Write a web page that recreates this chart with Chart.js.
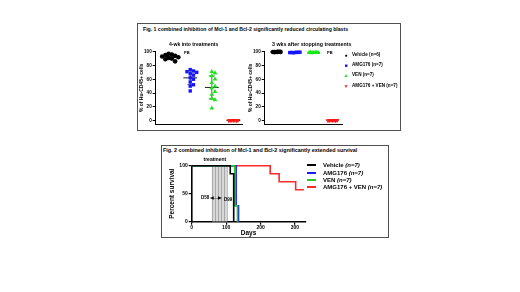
<!DOCTYPE html>
<html>
<head>
<meta charset="utf-8">
<script src="https://cdn.jsdelivr.net/npm/chart.js@4.4.1/dist/chart.umd.min.js"></script>
<style>
  html, body { margin: 0; padding: 0; background: #fff; }
  #page { position: relative; width: 520px; height: 292px; overflow: hidden; font-family: 'Liberation Sans', Arial, sans-serif; }
  .box { position: absolute; border: 1.5px solid #505050; box-sizing: border-box; }
  .txt { position: absolute; white-space: nowrap; font-weight: bold; color: #000; line-height: 1; transform-origin: left center; }
  canvas { position: absolute; }
</style>
</head>
<body>
<div id="page">
  <div class="box" style="left:137px;top:23px;width:264px;height:108px"></div>
  <div class="box" style="left:161px;top:145px;width:228px;height:93px"></div>
  <canvas id="wk4" width="109" height="86" style="left:137px;top:44px"></canvas>
  <canvas id="off3" width="100" height="86" style="left:246px;top:44px"></canvas>
  <canvas id="surv" width="150" height="80" style="left:161px;top:158px"></canvas>
</div>
<script>
// groups
const groups = ['Vehicle', 'AMG176', 'VEN', 'AMG176 + VEN'];
const groupN1 = ['(n=6)', '(n=7)', '(n=7)', '(n=7)'];
const groupN2 = ['(n=7)', '(n=7)', '(n=7)', '(n=7)'];
const groupColors = ['#000000', '#1414ff', '#19e619', '#ff1a1a'];

// Fig 1 - % Hu-CD45+ cells in PB, 4 wk into treatment
const wk4Vehicle = [97, 96, 95, 94, 93, 92, 91, 90, 89, 86];
const wk4Amg = [74, 72, 71, 70, 68, 66, 62, 60, 56, 52, 50, 43];
const wk4Ven = [71, 69, 65, 60, 55, 50, 47, 42, 38, 32, 30, 18];
const wk4Combo = [0.3, 0.2, 0.4, 0.1, 0.3, 0.2, 0.1];
// 3 wks after stopping treatments
const off3Vehicle = [99.6, 99.8, 99.4, 99.9, 99.5, 99.7];
const off3Amg = [98.8, 99.2, 98.5, 99.0, 98.9, 99.3, 98.7];
const off3Ven = [98.6, 99.0, 98.4, 98.9, 99.1, 98.7, 98.8];
const off3Combo = [0.3, 0.2, 0.4, 0.1, 0.3, 0.2, 0.1];
const pctTicks = [0, 20, 40, 60, 80, 100];

// Fig 2 - survival (days, percent)
const vehDays = [0, 112, 122];
const vehSurv = [100, 85.7, 0];
const amgDays = [0, 129, 136];
const amgSurv = [100, 28.6, 0];
const venDays = [0, 125, 133];
const venSurv = [100, 28.6, 0];
const comboDays = [0, 228, 254, 302, 326];
const comboSurv = [100, 85.7, 71.4, 57.1, 57.1];
const treatStart = 58;
const treatEnd = 105;
const dayTicks = [0, 100, 200, 300];
const survTicks = [0, 50, 100];

const FONT = "'Liberation Sans', Arial, sans-serif";
Chart.defaults.font.family = FONT;
Chart.defaults.color = '#000';
const page = document.getElementById('page');

function put(text, x, y, size, o = {}) {
  const d = document.createElement('div');
  d.className = 'txt';
  d.innerHTML = text;
  d.style.fontSize = size + 'px';
  d.style.left = x + 'px';
  d.style.top = (y - size / 2) + 'px';
  if (o.color) d.style.color = o.color;
  page.appendChild(d);
  const sx = o.w ? o.w / d.offsetWidth : 1;
  const tx = o.center ? -d.offsetWidth * sx / 2 : 0;
  d.style.transform = `translateX(${tx}px) scaleX(${sx})`;
  return d;
}

const mean = a => a.reduce((s, v) => s + v, 0) / a.length;
const sd = a => { const m = mean(a); return Math.sqrt(a.reduce((s, v) => s + (v - m) ** 2, 0) / (a.length - 1)); };

// simple beeswarm spread around the group centre
function swarm(values, center, xStep, yGap) {
  const placed = [];
  return values.map(v => {
    let k = 0, x;
    while (true) {
      x = center + (k % 2 ? 1 : -1) * Math.ceil(k / 2) * xStep;
      if (!placed.some(p => Math.abs(p.x - x) < xStep * 0.9 && Math.abs(p.y - v) < yGap)) break;
      k++;
    }
    placed.push({ x, y: v });
    return { x, y: v };
  });
}

const markerStyle = ['circle', 'rect', 'triangle', 'triangle'];
const markerRot = [0, 0, 0, 180];
const markerRad = [2.3, 2.4, 2.7, 2.7];

function lineSet(pts, color, w) {
  return { data: pts, showLine: true, pointRadius: 0, borderColor: color, borderWidth: w, clip: false };
}

function stripPanel(id, vals, spec) {
  const datasets = [];
  // points first so they are drawn above the mean / SD lines
  vals.forEach((v, i) => {
    datasets.push({
      data: swarm(v, i + 1, spec.step[i], 5.5),
      pointStyle: markerStyle[i],
      rotation: markerRot[i],
      pointRadius: markerRad[i],
      backgroundColor: groupColors[i],
      borderColor: groupColors[i],
      borderWidth: 0,
      clip: false
    });
  });
  vals.forEach((v, i) => {
    const c = i + 1, m = mean(v), s = sd(v);
    datasets.push(lineSet([{ x: c - 0.32, y: m }, { x: c + 0.32, y: m }], '#222', 1));
    if (spec.bars) {
      datasets.push(lineSet([{ x: c, y: m - s }, { x: c, y: m + s }], '#222', 0.7));
      datasets.push(lineSet([{ x: c - 0.14, y: m - s }, { x: c + 0.14, y: m - s }], '#222', 0.7));
      datasets.push(lineSet([{ x: c - 0.14, y: m + s }, { x: c + 0.14, y: m + s }], '#222', 0.7));
    }
  });
  new Chart(document.getElementById(id), {
    type: 'scatter',
    data: { datasets },
    options: {
      responsive: false,
      animation: false,
      events: [],
      plugins: { legend: { display: false }, tooltip: { enabled: false } },
      layout: { padding: { left: 0, right: spec.padRight, top: 7.7, bottom: 6 } },
      scales: {
        x: {
          type: 'linear', min: 0.4, max: spec.xMax,
          grid: { display: false },
          border: { color: '#000', width: 1 },
          ticks: { display: false },
          afterFit: s => { s.height = 0; }
        },
        y: {
          min: -5, max: 100,
          afterBuildTicks: a => { a.ticks = pctTicks.map(v => ({ value: v })); },
          afterFit: s => { s.width = 18.7; },
          grid: { drawOnChartArea: false, tickLength: 3, color: '#000', lineWidth: 1 },
          border: { color: '#000', width: 1 },
          ticks: { padding: 1, font: { size: 4.6, weight: 'bold' }, color: '#000' },
          title: { display: true, text: '% of Hu-CD45+ cells', font: { size: 5, weight: 'bold' }, padding: { top: 2, bottom: 0 }, color: '#000' }
        }
      }
    }
  });
}

stripPanel('wk4', [wk4Vehicle, wk4Amg, wk4Ven, wk4Combo], { xMax: 4.4, padRight: 3, bars: true, step: [0.15, 0.15, 0.15, 0.07] });
stripPanel('off3', [off3Vehicle, off3Amg, off3Ven, off3Combo], { xMax: 4.5, padRight: 4, bars: false, step: [0.08, 0.09, 0.08, 0.08] });

// hatch for treatment window
const pc = document.createElement('canvas');
pc.width = 3; pc.height = 4;
const pctx = pc.getContext('2d');
pctx.fillStyle = '#d8d8d8'; pctx.fillRect(0, 0, 3, 4);
pctx.fillStyle = '#a8a8a8'; pctx.fillRect(0, 0, 1, 4);
const survCanvas = document.getElementById('surv');
const hatch = survCanvas.getContext('2d').createPattern(pc, 'repeat');

const zip = (xs, ys) => xs.map((x, i) => ({ x, y: ys[i] }));
const curve = (xs, ys, color) => ({
  data: zip(xs, ys), borderColor: color, borderWidth: 1.6, pointRadius: 0,
  stepped: 'before', fill: false, clip: false
});

new Chart(survCanvas, {
  type: 'line',
  data: {
    datasets: [
      curve(vehDays, vehSurv, '#000'),
      curve(venDays, venSurv, '#22cc22'),
      curve(amgDays, amgSurv, '#1a1aff'),
      curve(comboDays, comboSurv, '#ff2a2a'),
      { data: [{ x: treatStart, y: 100 }, { x: treatEnd, y: 100 }], fill: 'origin', backgroundColor: hatch, borderWidth: 0, pointRadius: 0 }
    ]
  },
  options: {
    responsive: false,
    animation: false,
    events: [],
    plugins: { legend: { display: false }, tooltip: { enabled: false } },
    layout: { padding: { left: 0, right: 5.7, top: 7.7, bottom: 0 } },
    scales: {
      x: {
        type: 'linear', min: 0, max: 330,
        afterBuildTicks: a => { a.ticks = dayTicks.map(v => ({ value: v })); },
        afterFit: s => { s.height = 16.3; },
        grid: { drawOnChartArea: false, tickLength: 3, color: '#000', lineWidth: 1.2 },
        border: { color: '#000', width: 1.6 },
        ticks: { padding: 0, font: { size: 5, weight: 'bold' }, color: '#000', maxRotation: 0 },
        title: { display: true, text: 'Days', font: { size: 6.5, weight: 'bold' }, padding: { top: 0, bottom: 0.5 }, color: '#000' }
      },
      y: {
        min: 0, max: 100,
        afterBuildTicks: a => { a.ticks = survTicks.map(v => ({ value: v })); },
        afterFit: s => { s.width = 30.7; },
        grid: { drawOnChartArea: false, tickLength: 3, color: '#000', lineWidth: 1.2 },
        border: { color: '#000', width: 1.6 },
        ticks: { padding: 1, font: { size: 5, weight: 'bold' }, color: '#000' },
        title: { display: true, text: 'Percent survival', font: { size: 6.5, weight: 'bold' }, padding: { top: 7.5, bottom: 0 }, color: '#000' }
      }
    }
  }
});

// Fig 1 texts
put('Fig. 1 combined inhibition of Mcl-1 and Bcl-2 significantly reduced circulating blasts', 143, 30, 5.5, { w: 205 });
put('4-wk into treatments', 168.5, 44, 6, { w: 49 });
put('3 wks after stopping treatments', 271.5, 43.5, 6, { w: 79 });
put('PB', 187, 53, 4, { center: true });
put('PB', 330, 53, 4, { center: true });
const leg1Y = [55, 65, 75.5, 86];
const leg1Mark = ['&#9679;', '&#9632;', '&#9650;', '&#9660;'];
groups.forEach((g, i) => {
  put(leg1Mark[i], 346, leg1Y[i], 5, { center: true, color: groupColors[i] });
  put(g + ' ' + groupN1[i], 352, leg1Y[i], 4.6);
});

// Fig 2 texts
put('Fig. 2 combined inhibition of Mcl-1 and Bcl-2 significantly extended survival', 163, 150.5, 5.5, { w: 194 });
put('treatment', 215, 159.5, 5, { center: true });
put('D58', 201, 198.5, 4.5);
put('&#9664;&#8212;&#9654;', 216, 198, 4, { center: true, w: 12 });
put('D99', 224, 200, 4.5);
const leg2Y = [165, 173, 180, 187];
const leg2Colors = ['#000', '#1a1aff', '#22cc22', '#ff2a2a'];
groups.forEach((g, i) => {
  const ln = document.createElement('div');
  ln.style.cssText = `position:absolute;left:307px;top:${leg2Y[i] - 1}px;width:9px;height:2px;background:${leg2Colors[i]}`;
  page.appendChild(ln);
  put(g + ' <i>' + groupN2[i] + '</i>', 323, leg2Y[i], 6);
});
</script>
</body>
</html>
